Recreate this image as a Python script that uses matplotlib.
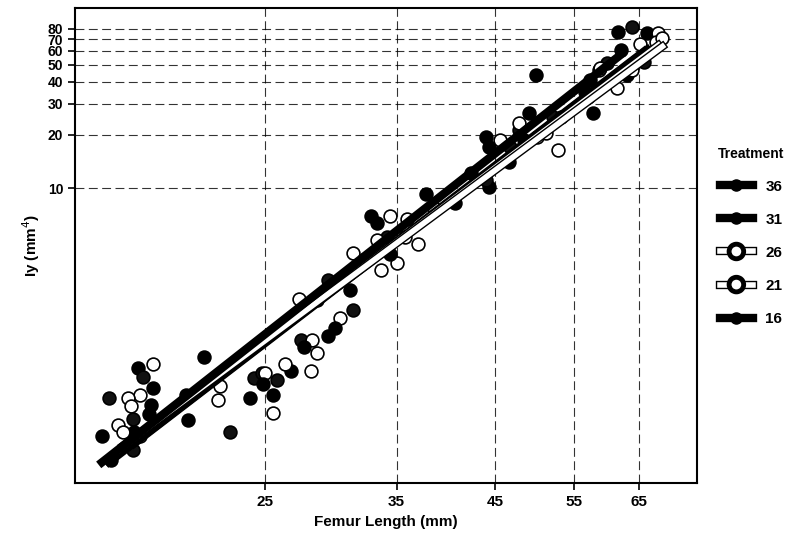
import numpy as np
import matplotlib
matplotlib.use("Agg")
import matplotlib.pyplot as plt
import matplotlib.patheffects as pe
from matplotlib.lines import Line2D

plt.rcParams['font.family'] = ['Liberation Sans', 'DejaVu Sans']

# femur length (mm) and Iy (mm^4) per treatment
x_36 = [18.1, 21.4, 18.6, 17.9, 20.55, 24.1, 33.3, 32.3, 31.1, 29.4, 26.7, 25.55, 49.1, 44.3, 48.4, 44.3, 40.6, 66.4, 63.1, 57.1, 56.6]
y_36 = [0.95, 1.1, 0.52, 0.41, 0.48, 0.64, 6.3, 3.96, 2.63, 1.45, 0.92, 0.67, 26.6, 17.1, 18.7, 10.1, 8.2, 76, 44, 33, 35]
x_31 = [18.3, 16.8, 17.85, 17.85, 22.9, 24.3, 34.2, 29.4, 31.3, 27.4, 24.8, 25.8, 47.8, 46.8, 52.2, 44.0, 63.9, 65.9, 59.9, 53.2]
y_31 = [0.85, 0.64, 0.49, 0.325, 0.41, 0.83, 5.3, 3.0, 2.03, 1.37, 0.89, 0.81, 21.3, 17.1, 25.3, 11.1, 82, 52, 51, 25.3]
x_26 = [18.8, 18.2, 17.2, 18.2, 22.2, 34.45, 33.3, 35.0, 33.6, 27.3, 28.2, 28.1, 25.55, 47.8, 50.1, 68.3, 67.8, 63.9, 58.7, 51.2]
y_26 = [1.0, 0.67, 0.45, 0.39, 0.63, 6.9, 5.07, 3.75, 3.42, 2.36, 1.37, 0.92, 0.53, 23.4, 19.5, 76, 67, 47, 47, 20.6]
x_21 = [17.65, 17.75, 17.4, 22.3, 25.0, 35.9, 35.75, 37.0, 31.3, 30.3, 28.6, 26.35, 38.5, 45.6, 52.8, 69.0, 65.2, 58.9, 61.4]
y_21 = [0.64, 0.58, 0.41, 0.75, 0.89, 6.7, 5.3, 4.8, 4.3, 1.82, 1.16, 1.0, 7.7, 18.7, 16.4, 71, 66, 48, 37]
x_16 = [18.8, 18.7, 16.5, 16.9, 20.45, 32.75, 34.45, 28.6, 29.9, 27.6, 24.9, 50.0, 44.0, 46.6, 42.3, 37.7, 61.6, 62.0, 57.4, 57.8]
y_16 = [0.73, 0.59, 0.39, 0.285, 0.67, 6.9, 4.2, 2.31, 1.6, 1.25, 0.77, 44, 19.5, 14.0, 12.2, 9.2, 77, 61, 41, 26.6]

treatments = ['36', '31', '26', '21', '16']
xs = [x_36, x_31, x_26, x_21, x_16]
ys = [y_36, y_31, y_26, y_21, y_16]
fills = ['black', '#111111', 'white', 'white', 'black']

x_ticks = [25, 35, 45, 55, 65]
y_ticks = [10, 20, 30, 40, 50, 60, 70, 80]

fig = plt.figure(figsize=(8.06, 5.37), dpi=100)
ax = fig.add_axes([0.093, 0.1, 0.772, 0.885])
ax.set_xscale('log')
ax.set_yscale('log')

for x, y, c in zip(xs, ys, fills):
    ax.scatter(x, y, s=85, c=c, edgecolors='black', linewidths=1.2, zorder=3)

# log-log linear fits per treatment
for x, y, c in zip(xs, ys, fills):
    lx, ly = np.log10(x), np.log10(y)
    b, a = np.polyfit(lx, ly, 1)
    xx = np.array([min(lx), max(lx)])
    yy = a + b * xx
    if c == 'white':
        ax.plot(10**xx, 10**yy, color='white', lw=4, zorder=4,
                path_effects=[pe.Stroke(linewidth=6, foreground='black'), pe.Normal()])
    else:
        ax.plot(10**xx, 10**yy, color='black', lw=6, zorder=4)

ax.set_xlim(15.4, 75.4)
ax.set_ylim(0.211, 105)
ax.set_xticks(x_ticks)
ax.set_xticklabels([str(v) for v in x_ticks])
ax.set_yticks(y_ticks)
ax.set_yticklabels([str(v) for v in y_ticks])
ax.minorticks_off()
ax.tick_params(axis='x', labelsize=11, width=1.2, length=5)
ax.tick_params(axis='y', labelsize=10, width=1.2, length=5)
for lab in ax.get_xticklabels() + ax.get_yticklabels():
    lab.set_fontweight('bold')
for s in ax.spines.values():
    s.set_linewidth(1.5)
ax.grid(True, which='major', color='black', linestyle=(0, (8, 4)), linewidth=0.8, alpha=0.8)
ax.set_axisbelow(True)

ax.set_xlabel('Femur Length (mm)', fontsize=11, fontweight='bold')
ax.set_ylabel('Iy (mm$^4$)', fontsize=11, fontweight='bold')

handles = []
for t, c in zip(treatments, fills):
    if c == 'white':
        h = Line2D([], [], color='white', lw=4, marker='o', markersize=8,
                   markerfacecolor='white', markeredgecolor='black',
                   path_effects=[pe.Stroke(linewidth=6, foreground='black'), pe.Normal()])
    else:
        h = Line2D([], [], color='black', lw=6, marker='o', markersize=8,
                   markerfacecolor='black', markeredgecolor='black')
    handles.append(h)
leg = fig.legend(handles, treatments, title='Treatment', loc='center left',
                 bbox_to_anchor=(0.883, 0.56), frameon=False, fontsize=11,
                 handlelength=2.2, labelspacing=1.25, borderaxespad=0)
leg.get_title().set_fontweight('bold')
for txt in leg.get_texts():
    txt.set_fontweight('bold')

fig.savefig('out.png', dpi=100)
